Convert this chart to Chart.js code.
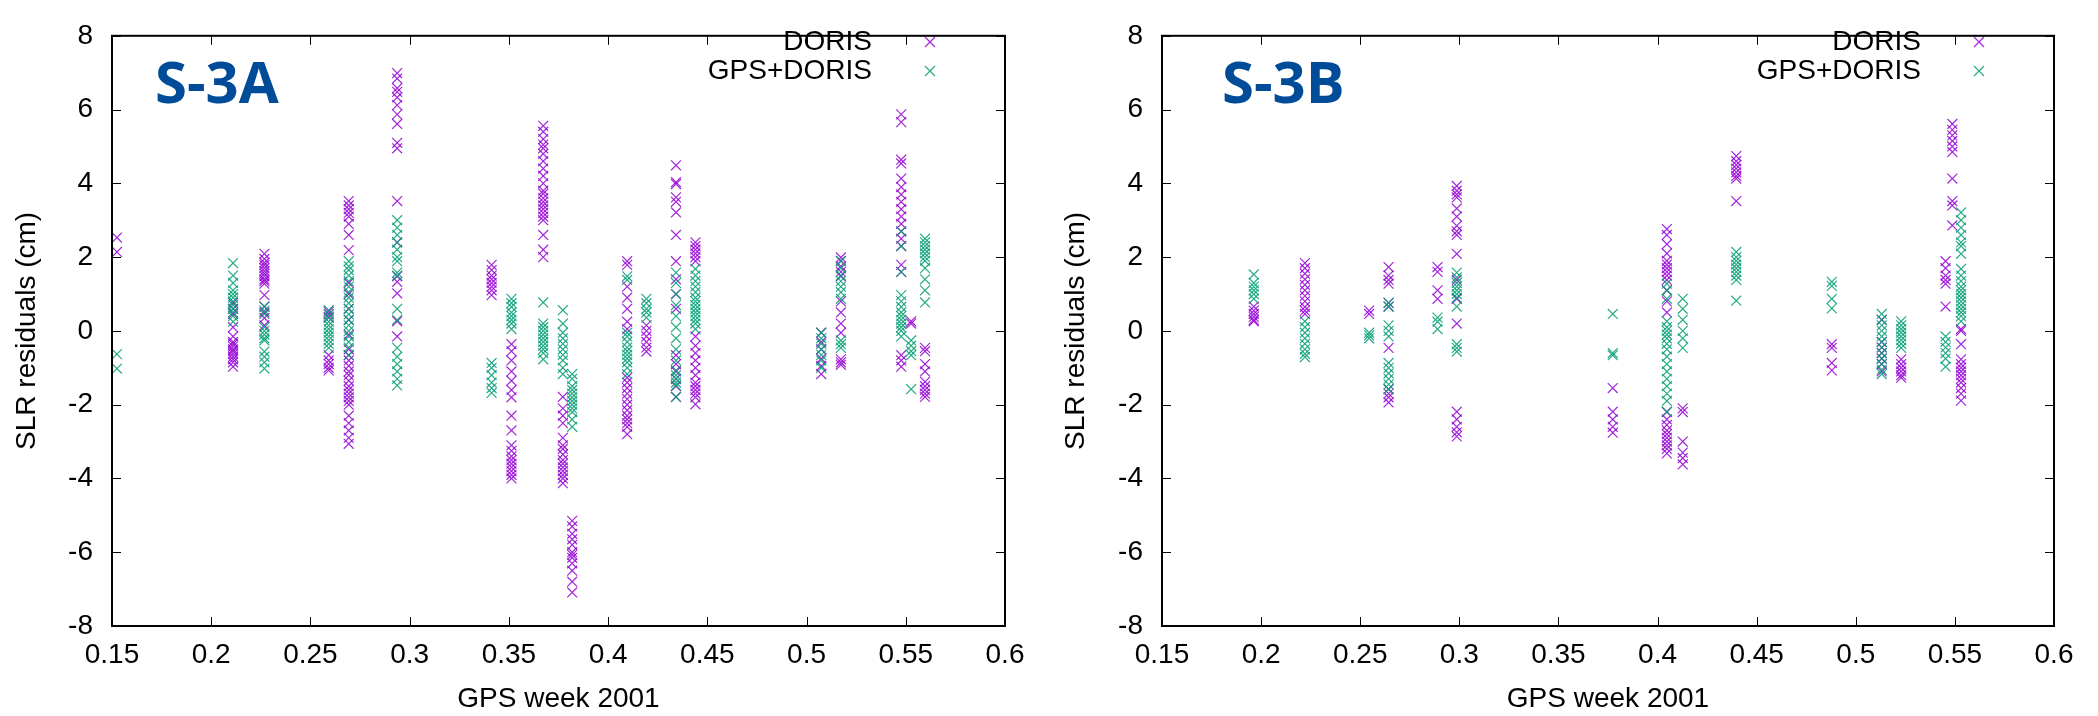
<!DOCTYPE html>
<html><head><meta charset="utf-8">
<script src="https://cdn.jsdelivr.net/npm/chart.js@4.4.0/dist/chart.umd.min.js"></script>
<style>
html,body{margin:0;padding:0;background:#fff;}
#wrap{position:relative;width:2098px;height:716px;background:#fff;}
canvas{position:absolute;top:0;}
</style></head><body>
<div id="wrap"><canvas id="c1" width="1049" height="716" style="left:0"></canvas><canvas id="c2" width="1049" height="716" style="left:1049px"></canvas></div>
<script>
// ---- tick values / labels ----
const xTickValues = [0.15, 0.2, 0.25, 0.3, 0.35, 0.4, 0.45, 0.5, 0.55, 0.6];
const xTickLabels = ['0.15', '0.2', '0.25', '0.3', '0.35', '0.4', '0.45', '0.5', '0.55', '0.6'];
const yTickValues = [-8, -6, -4, -2, 0, 2, 4, 6, 8];
const yTickLabels = ['-8', '-6', '-4', '-2', '0', '2', '4', '6', '8'];
const seriesNames = ['DORIS', 'GPS+DORIS'];
const panelTitles = ['S-3A', 'S-3B'];
const xAxisTitle = 'GPS week 2001';
const yAxisTitle = 'SLR residuals (cm)';

// ---- S-3A, DORIS: pass times and residuals ----
const s3aDorisX = [0.1525, 0.211, 0.2268, 0.2592, 0.2693, 0.2937, 0.3413, 0.3513, 0.3673, 0.3772, 0.3819, 0.4096, 0.4193, 0.4342, 0.444, 0.5074, 0.5173, 0.5477, 0.5527, 0.5597];
const s3aDorisY = [
  [2.53, 2.14],
  [0.76, 0.6, 0.46, 0.1, -0.15, -0.3, -0.35, -0.42, -0.5, -0.55, -0.62, -0.7, -0.77, -0.85, -0.97],
  [2.09, 1.95, 1.85, 1.78, 1.7, 1.62, 1.55, 1.48, 1.4, 1.35, 1.28, 0.97, 0.66, 0.5, 0.35, 0.15],
  [0.52, 0.45, 0.38, -0.66, -0.8, -0.9, -1.0, -1.07],
  [3.52, 3.4, 3.3, 3.2, 3.1, 2.9, 2.6, 2.19, 1.3, 1.0, 0.6, 0.3, -0.1, -0.5, -0.66, -0.8, -0.95, -1.1, -1.2, -1.35, -1.5, -1.6, -1.7, -1.8, -1.9, -2.0, -2.3, -2.5, -2.7, -2.9, -3.06],
  [6.99, 6.84, 6.58, 6.48, 6.33, 6.12, 5.87, 5.61, 5.1, 4.95, 3.52, 2.4, 1.48, 1.33, 1.02, 0.26, -0.15],
  [1.79, 1.65, 1.5, 1.4, 1.3, 1.2, 1.1, 0.97],
  [-0.36, -0.55, -0.8, -1.1, -1.35, -1.6, -1.8, -2.3, -2.7, -3.1, -3.25, -3.4, -3.5, -3.6, -3.7, -3.8, -3.9, -4.0],
  [5.56, 5.4, 5.2, 5.05, 4.95, 4.8, 4.6, 4.4, 4.2, 4.0, 3.8, 3.72, 3.6, 3.5, 3.4, 3.3, 3.2, 3.1, 3.0, 2.6, 2.2, 2.0],
  [-1.79, -2.1, -2.3, -2.5, -2.9, -3.1, -3.2, -3.35, -3.5, -3.6, -3.7, -3.8, -3.9, -4.0, -4.13],
  [-5.15, -5.3, -5.5, -5.65, -5.8, -6.0, -6.07, -6.15, -6.3, -6.5, -6.8, -7.09],
  [1.89, 1.79, 1.2, 0.9, 0.6, 0.25, 0.05, -1.27, -1.4, -1.55, -1.7, -1.85, -2.0, -2.15, -2.3, -2.4, -2.5, -2.6, -2.8],
  [0.15, 0.0, -0.15, -0.3, -0.45, -0.56],
  [4.49, 4.03, 3.98, 3.62, 3.5, 3.21, 2.6, 1.89, 1.4, 1.0, 0.6, -0.66, -0.9, -1.1, -1.3, -1.5, -1.79],
  [2.4, 2.3, 2.2, 2.1, 2.0, 1.89, -0.15, -0.4, -0.6, -0.8, -1.0, -1.2, -1.4, -1.5, -1.6, -1.7, -1.8, -1.99],
  [-0.05, -0.3, -0.5, -0.75, -0.95, -1.17],
  [1.99, 1.9, 1.75, 1.6, 1.48, 0.8, 0.5, 0.2, -0.05, -0.77, -0.85, -0.92],
  [5.87, 5.66, 4.64, 4.54, 4.13, 3.9, 3.7, 3.5, 3.3, 3.1, 2.9, 2.7, 2.5, 2.3, 1.79, 1.6, -0.66, -0.8, -0.97],
  [0.26, 0.2],
  [-0.46, -0.55, -0.9, -1.1, -1.38, -1.5, -1.6, -1.7, -1.79]
];

// ---- S-3A, GPS+DORIS ----
const s3aGpsX = [0.1525, 0.211, 0.2268, 0.2592, 0.2693, 0.2937, 0.3413, 0.3513, 0.3673, 0.3772, 0.3819, 0.4096, 0.4193, 0.4342, 0.444, 0.5074, 0.5173, 0.5477, 0.5527, 0.5597];
const s3aGpsY = [
  [-0.63, -1.02],
  [1.84, 1.5, 1.3, 1.1, 1.0, 0.9, 0.8, 0.7, 0.6, 0.5, 0.4, 0.25],
  [0.66, 0.55, 0.46, 0.1, 0.0, -0.1, -0.2, -0.26, -0.56, -0.7, -0.85, -1.02],
  [0.56, 0.45, 0.35, 0.25, 0.15, 0.05, -0.05, -0.15, -0.25, -0.35, -0.46],
  [1.89, 1.75, 1.65, 1.5, 1.35, 1.2, 1.05, 0.9, 0.75, 0.6, 0.45, 0.3, 0.15, 0.0, -0.15, -0.3, -0.45, -0.66],
  [3.0, 2.8, 2.6, 2.4, 2.2, 2.0, 1.89, 1.58, 1.5, 0.6, 0.3, -0.46, -0.7, -0.9, -1.1, -1.3, -1.48],
  [-0.87, -1.0, -1.2, -1.4, -1.55, -1.68],
  [0.87, 0.75, 0.65, 0.5, 0.4, 0.3, 0.2, 0.05],
  [0.77, 0.2, 0.1, 0.0, -0.1, -0.2, -0.3, -0.4, -0.5, -0.6, -0.77],
  [0.56, 0.2, -0.05, -0.2, -0.35, -0.5, -0.65, -0.8, -1.0, -1.17],
  [-1.17, -1.3, -1.5, -1.6, -1.7, -1.8, -1.9, -2.0, -2.1, -2.2, -2.4, -2.6],
  [1.48, 1.38, -0.05, -0.15, -0.3, -0.45, -0.55, -0.65, -0.75, -0.85, -1.0, -1.17],
  [0.87, 0.75, 0.6, 0.5, 0.36],
  [1.58, 1.3, 1.0, 0.7, 0.4, 0.1, -0.2, -0.5, -0.8, -1.07, -1.2, -1.3, -1.4, -1.48, -1.79],
  [1.68, 1.5, 1.35, 1.2, 1.05, 0.9, 0.8, 0.7, 0.6, 0.5, 0.4, 0.3, 0.2, 0.05],
  [-0.05, -0.2, -0.35, -0.5, -0.65, -0.8, -1.0],
  [1.89, 1.7, 1.5, 1.35, 1.2, 1.05, 0.87, -0.26, -0.36, -0.46],
  [2.7, 2.3, 1.6, 0.97, 0.8, 0.65, 0.5, 0.4, 0.3, 0.2, 0.1, 0.0, -0.15],
  [-0.26, -0.4, -0.55, -0.66, -1.58],
  [2.5, 2.4, 2.3, 2.2, 2.1, 2.0, 1.9, 1.7, 1.4, 1.1, 0.77]
];

// ---- S-3B, DORIS ----
const s3bDorisX = [0.1963, 0.2221, 0.2545, 0.2643, 0.289, 0.2987, 0.3774, 0.4047, 0.4127, 0.4397, 0.4879, 0.5131, 0.5229, 0.5453, 0.5487, 0.5531];
const s3bDorisY = [
  [0.66, 0.55, 0.46, 0.38, 0.3, 0.26],
  [1.84, 1.7, 1.55, 1.4, 1.25, 1.1, 0.95, 0.8, 0.65, 0.55, 0.46],
  [0.55, 0.46],
  [1.73, 1.5, 1.38, 1.28, 0.76, 0.66, -0.46, -1.58, -1.7, -1.8, -1.94],
  [1.73, 1.6, 1.1, 0.87],
  [3.93, 3.8, 3.7, 3.62, 3.32, 3.1, 2.85, 2.7, 2.6, 2.09, 1.38, 0.87, 0.2, -2.19, -2.4, -2.6, -2.75, -2.86],
  [-1.55, -2.19, -2.4, -2.6, -2.76],
  [2.76, 2.6, 2.35, 2.1, 1.9, 1.8, 1.7, 1.6, 1.5, 1.38, 1.1, 0.8, 0.5, -2.2, -2.4, -2.55, -2.7, -2.8, -2.9, -3.0, -3.1, -3.2, -3.32],
  [-2.1, -2.2, -3.0, -3.3, -3.45, -3.62],
  [4.74, 4.6, 4.5, 4.4, 4.3, 4.2, 4.13, 3.52],
  [-0.36, -0.46, -0.87, -1.07],
  [0.3, -0.3, -0.45, -0.6, -0.75, -0.9, -1.1],
  [-0.77, -0.9, -1.0, -1.1, -1.2, -1.27],
  [1.89, 1.7, 1.5, 1.38, 1.28, 0.66],
  [5.61, 5.45, 5.3, 5.15, 5.0, 4.85, 4.13, 3.52, 3.4, 2.86],
  [0.05, 0.0, -0.36, -0.77, -0.9, -1.0, -1.1, -1.2, -1.3, -1.4, -1.55, -1.7, -1.89]
];

// ---- S-3B, GPS+DORIS ----
const s3bGpsX = [0.1963, 0.2221, 0.2545, 0.2643, 0.289, 0.2987, 0.3774, 0.4047, 0.4127, 0.4397, 0.4879, 0.5131, 0.5229, 0.5453, 0.5531];
const s3bGpsY = [
  [1.53, 1.3, 1.2, 1.1, 1.0, 0.87],
  [0.26, 0.1, -0.05, -0.2, -0.35, -0.5, -0.62, -0.71],
  [-0.05, -0.12, -0.2],
  [0.76, 0.66, 0.15, 0.0, -0.15, -0.87, -1.0, -1.15, -1.3, -1.45, -1.58],
  [0.36, 0.25, 0.05],
  [1.58, 1.45, 1.3, 1.2, 1.1, 1.0, 0.9, 0.66, -0.36, -0.46, -0.56],
  [0.46, -0.6, -0.66],
  [1.28, 1.1, 0.87, 0.26, 0.1, 0.0, -0.1, -0.2, -0.35, -0.5, -0.7, -0.9, -1.1, -1.3, -1.5, -1.7, -1.9, -2.19],
  [0.87, 0.6, 0.3, 0.0, -0.2, -0.46],
  [2.14, 2.0, 1.9, 1.8, 1.7, 1.6, 1.5, 1.38, 0.82],
  [1.33, 1.22, 0.87, 0.61],
  [0.46, 0.3, 0.15, 0.0, -0.15, -0.3, -0.45, -0.6, -0.75, -0.9, -1.05, -1.17],
  [0.26, 0.15, 0.05, -0.05, -0.15, -0.25, -0.35, -0.46],
  [-0.15, -0.3, -0.45, -0.6, -0.75, -0.97],
  [3.21, 3.0, 2.8, 2.6, 2.4, 2.3, 2.09, 1.68, 1.5, 1.35, 1.2, 1.1, 1.0, 0.9, 0.8, 0.7, 0.6, 0.5, 0.4, 0.26]
];

function toPoints(xs, ys) {
  const pts = [];
  xs.forEach((x, i) => ys[i].forEach(y => pts.push({x: x, y: y})));
  return pts;
}

const COLORS = ['rgba(148,0,211,0.85)', 'rgba(0,158,115,0.85)'];
const FONT = '"Liberation Sans", Arial, Helvetica, sans-serif';

const framePlugin = {
  id: 'frame',
  afterDatasetsDraw(chart) {
    const opts = chart.options.plugins.frame;
    const {ctx, chartArea: a, scales: {x, y}} = chart;
    ctx.save();
    ctx.strokeStyle = '#000';
    ctx.lineWidth = 1;
    ctx.beginPath();
    xTickValues.forEach(v => {
      const px = Math.round(x.getPixelForValue(v)) + 0.5;
      ctx.moveTo(px, a.bottom); ctx.lineTo(px, a.bottom - 9);
      ctx.moveTo(px, a.top); ctx.lineTo(px, a.top + 9);
    });
    yTickValues.forEach(v => {
      const py = Math.round(y.getPixelForValue(v)) + 0.5;
      ctx.moveTo(a.left, py); ctx.lineTo(a.left + 9, py);
      ctx.moveTo(a.right, py); ctx.lineTo(a.right - 9, py);
    });
    ctx.stroke();
    ctx.lineWidth = 2;
    ctx.strokeRect(a.left, a.top, a.right - a.left, a.bottom - a.top);
    // legend
    ctx.font = '28px ' + FONT;
    ctx.fillStyle = '#000';
    ctx.textAlign = 'right';
    ctx.textBaseline = 'middle';
    const ly = [42, 71];
    chart.data.datasets.forEach((ds, i) => {
      ctx.fillText(ds.label, a.right - 133, ly[i]);
      ctx.strokeStyle = ds.borderColor;
      ctx.lineWidth = 1.2;
      const cx = a.right - 75, cy = ly[i], r = 5;
      ctx.beginPath();
      ctx.moveTo(cx - r, cy - r); ctx.lineTo(cx + r, cy + r);
      ctx.moveTo(cx - r, cy + r); ctx.lineTo(cx + r, cy - r);
      ctx.stroke();
    });
    // panel badge
    ctx.font = '700 58px "Open Sans", "Noto Sans", sans-serif';
    ctx.fillStyle = '#004c99';
    ctx.textAlign = 'left';
    ctx.textBaseline = 'alphabetic';
    ctx.fillText(opts.badge, opts.badgeX, 103);
    ctx.restore();
  }
};

function makeChart(id, title, badgeX, dorisX, dorisY, gpsX, gpsY, yWidth) {
  return new Chart(document.getElementById(id), {
    type: 'scatter',
    data: {
      datasets: [
        {label: seriesNames[0], data: toPoints(dorisX, dorisY), order: 2,
         pointStyle: 'crossRot', pointRadius: 7, pointBorderWidth: 1.2,
         borderColor: COLORS[0], backgroundColor: COLORS[0]},
        {label: seriesNames[1], data: toPoints(gpsX, gpsY), order: 1,
         pointStyle: 'crossRot', pointRadius: 7, pointBorderWidth: 1.2,
         borderColor: COLORS[1], backgroundColor: COLORS[1]}
      ]
    },
    options: {
      responsive: false,
      animation: false,
      events: [],
      layout: {padding: {top: 18, right: 44, left: 0, bottom: 0}},
      plugins: {
        legend: {display: false},
        tooltip: {enabled: false},
        frame: {badge: title, badgeX: badgeX}
      },
      scales: {
        x: {
          type: 'linear', min: 0.15, max: 0.6,
          afterBuildTicks: s => { s.ticks = xTickValues.map(v => ({value: v})); },
          afterFit: s => { s.height = 90; },
          grid: {display: false, drawTicks: false},
          border: {display: false},
          ticks: {padding: 12, color: '#000', font: {size: 28, family: FONT},
                  maxRotation: 0, autoSkip: false,
                  callback: (v, i) => xTickLabels[i]},
          title: {display: true, text: xAxisTitle, color: '#000',
                  font: {size: 28, family: FONT}, padding: {top: 0, bottom: 0}}
        },
        y: {
          type: 'linear', min: -8, max: 8,
          afterBuildTicks: s => { s.ticks = yTickValues.map(v => ({value: v})); },
          afterFit: s => { s.width = yWidth; },
          grid: {display: false, drawTicks: false},
          border: {display: false},
          ticks: {padding: 19, color: '#000', font: {size: 28, family: FONT},
                  autoSkip: false,
                  callback: (v, i) => yTickLabels[i]},
          title: {display: true, text: yAxisTitle, color: '#000',
                  font: {size: 28, family: FONT}, padding: {top: 10, bottom: 0}}
        }
      }
    },
    plugins: [framePlugin]
  });
}

Promise.all([
  document.fonts.load('700 58px "Open Sans"'),
  document.fonts.load('28px "Liberation Sans"')
]).catch(() => {}).then(() => {
  makeChart('c1', panelTitles[0], 155, s3aDorisX, s3aDorisY, s3aGpsX, s3aGpsY, 112);
  makeChart('c2', panelTitles[1], 173, s3bDorisX, s3bDorisY, s3bGpsX, s3bGpsY, 113);
});
</script>
</body></html>
